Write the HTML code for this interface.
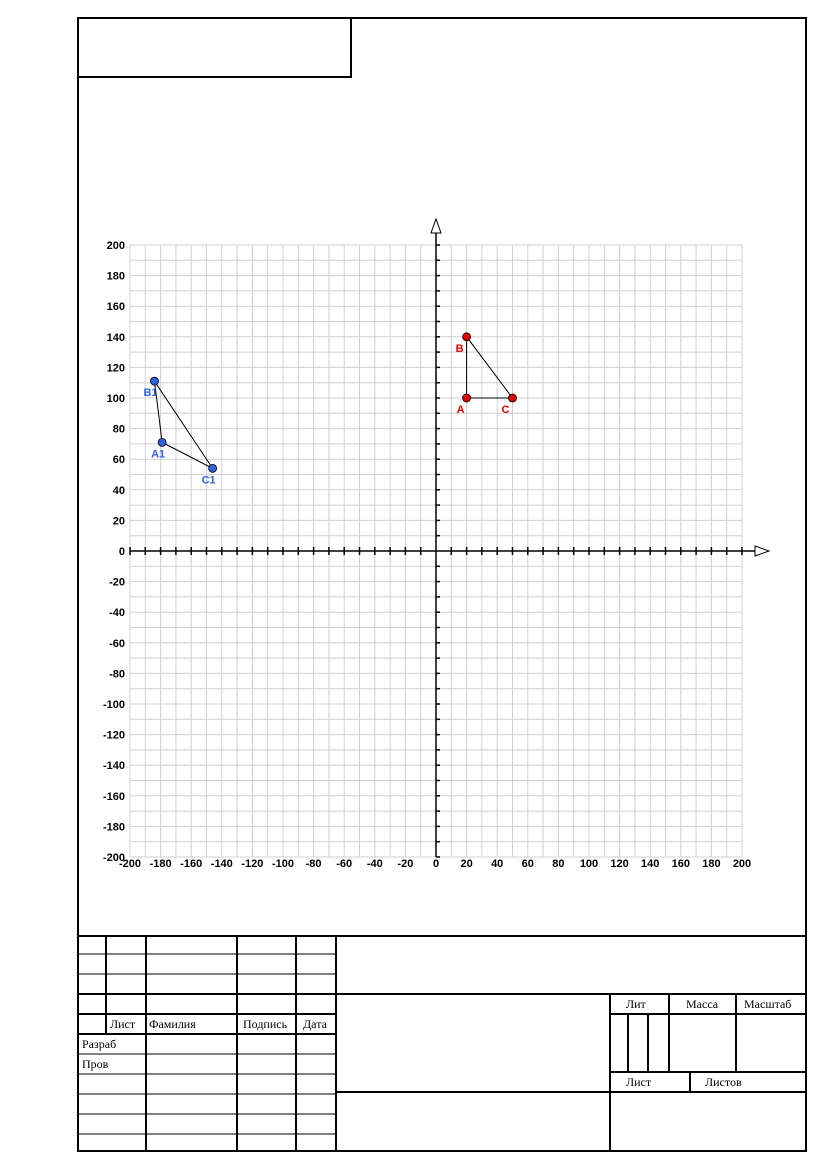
<!DOCTYPE html>
<html><head><meta charset="utf-8"><style>
body{margin:0;background:#fff}
svg{display:block}
.t{font-family:"Liberation Serif",serif;font-size:12px}
.ax{font-family:"Liberation Sans",sans-serif;font-size:11px;font-weight:bold}
</style></head><body>
<svg id="s" width="827" height="1169" viewBox="0 0 827 1169" xmlns="http://www.w3.org/2000/svg">
<g stroke="#000" fill="none">
<rect x="78" y="18" width="728" height="1133" stroke-width="2"/>
<rect x="78" y="18" width="273" height="59" stroke-width="2"/>
</g>
<g id="grid"></g>
<g id="axes"></g>
<g id="marks"></g>
<g stroke="#000" stroke-width="2" fill="none">
<line x1="78" y1="936" x2="806" y2="936"/>
<line x1="78" y1="954" x2="336" y2="954" stroke-width="1"/>
<line x1="78" y1="974" x2="336" y2="974" stroke-width="1"/>
<line x1="78" y1="994" x2="806" y2="994"/>
<line x1="78" y1="1014" x2="336" y2="1014"/>
<line x1="78" y1="1034" x2="336" y2="1034"/>
<line x1="78" y1="1054" x2="336" y2="1054" stroke-width="1"/>
<line x1="78" y1="1074" x2="336" y2="1074" stroke-width="1"/>
<line x1="78" y1="1094" x2="336" y2="1094" stroke-width="1"/>
<line x1="78" y1="1114" x2="336" y2="1114" stroke-width="1"/>
<line x1="78" y1="1134" x2="336" y2="1134" stroke-width="1"/>
<line x1="106" y1="936" x2="106" y2="1034"/>
<line x1="146" y1="936" x2="146" y2="1151"/>
<line x1="237" y1="936" x2="237" y2="1151"/>
<line x1="296" y1="936" x2="296" y2="1151"/>
<line x1="336" y1="936" x2="336" y2="1151"/>
<line x1="336" y1="1092" x2="806" y2="1092"/>
<line x1="610" y1="994" x2="610" y2="1151"/>
<line x1="610" y1="1014" x2="806" y2="1014"/>
<line x1="610" y1="1072" x2="806" y2="1072"/>
<line x1="669" y1="994" x2="669" y2="1072"/>
<line x1="736" y1="994" x2="736" y2="1072"/>
<line x1="628" y1="1014" x2="628" y2="1072"/>
<line x1="648" y1="1014" x2="648" y2="1072"/>
<line x1="690" y1="1072" x2="690" y2="1092"/>
</g>
<g class="t">
<text x="110" y="1028">Лист</text>
<text x="149" y="1028">Фамилия</text>
<text x="243" y="1028">Подпись</text>
<text x="303" y="1028">Дата</text>
<text x="82" y="1048">Разраб</text>
<text x="82" y="1068">Пров</text>
<text x="626" y="1008">Лит</text>
<text x="686" y="1008">Масса</text>
<text x="744" y="1008">Масштаб</text>
<text x="626" y="1086">Лист</text>
<text x="705" y="1086">Листов</text>
</g>
</svg>
<script>
const xTicks=[-200,-180,-160,-140,-120,-100,-80,-60,-40,-20,0,20,40,60,80,100,120,140,160,180,200];
const yTicks=[200,180,160,140,120,100,80,60,40,20,0,-20,-40,-60,-80,-100,-120,-140,-160,-180,-200];
const triLabels=["A","B","C"];
const triX=[20,20,50];
const triY=[100,140,100];
const tri1Labels=["A1","B1","C1"];
const tri1X=[-179,-184,-146];
const tri1Y=[71,111,54];
const NS="http://www.w3.org/2000/svg";
const X=v=>436+v*1.53, Y=v=>551-v*1.53;
function mk(p,tag,a){const e=document.createElementNS(NS,tag);for(const k in a)e.setAttribute(k,a[k]);p.appendChild(e);return e;}
const g=document.getElementById('grid'),ax=document.getElementById('axes'),m=document.getElementById('marks');
for(let v=-200;v<=200;v+=10){
 const l1=mk(g,'line',{x1:X(v),y1:Y(200),x2:X(v),y2:Y(-200),stroke:'#d0d0d0','stroke-width':1});
 
 const l2=mk(g,'line',{x1:X(-200),y1:Y(v),x2:X(200),y2:Y(v),stroke:'#d0d0d0','stroke-width':1});
 
 if(v!==0){
  mk(ax,'line',{x1:X(v),y1:Y(0)-4,x2:X(v),y2:Y(0)+4,stroke:'#000','stroke-width':1.5});
  mk(ax,'line',{x1:X(0),y1:Y(v),x2:X(0)+4,y2:Y(v),stroke:'#000','stroke-width':1.5});
 }
}
mk(ax,'line',{x1:X(-200),y1:Y(0),x2:758,y2:Y(0),stroke:'#000','stroke-width':1.5});
mk(ax,'line',{x1:X(0),y1:Y(-200),x2:X(0),y2:230,stroke:'#000','stroke-width':1.5});
const ah=mk(ax,'polygon',{points:`755,546 769,551 755,556`,fill:'#fff',stroke:'#000'});

const av=mk(ax,'polygon',{points:`431,233 436,219 441,233`,fill:'#fff',stroke:'#000'});

xTicks.forEach(v=>{const t=mk(ax,'text',{x:X(v),y:867,'text-anchor':'middle',class:'ax'});t.textContent=v;
 });
yTicks.forEach(v=>{const t=mk(ax,'text',{x:125,y:Y(v)+4,'text-anchor':'end',class:'ax'});t.textContent=v;
 });
function tri(xs,ys,labs,col,offs){
 const pts=xs.map((x,i)=>X(x)+','+Y(ys[i])).join(' ');
 const p=mk(m,'polygon',{points:pts,fill:'none',stroke:'#000','stroke-width':1});
 
 xs.forEach((x,i)=>{
  const c=mk(m,'circle',{cx:X(x),cy:Y(ys[i]),r:4,fill:col,stroke:'#000','stroke-width':0.8});
  
  const t=mk(m,'text',{x:X(x)+offs[i][0],y:Y(ys[i])+offs[i][1],fill:col,'text-anchor':'middle',class:'ax'});
  t.textContent=labs[i];
  
 });
}
tri(triX,triY,triLabels,'#e00000',[[-6,15],[-7,15],[-7,15]]);
tri(tri1X,tri1Y,tri1Labels,'#3060e0',[[-4,15],[-4,15],[-4,15]]);
</script>
</body></html>
